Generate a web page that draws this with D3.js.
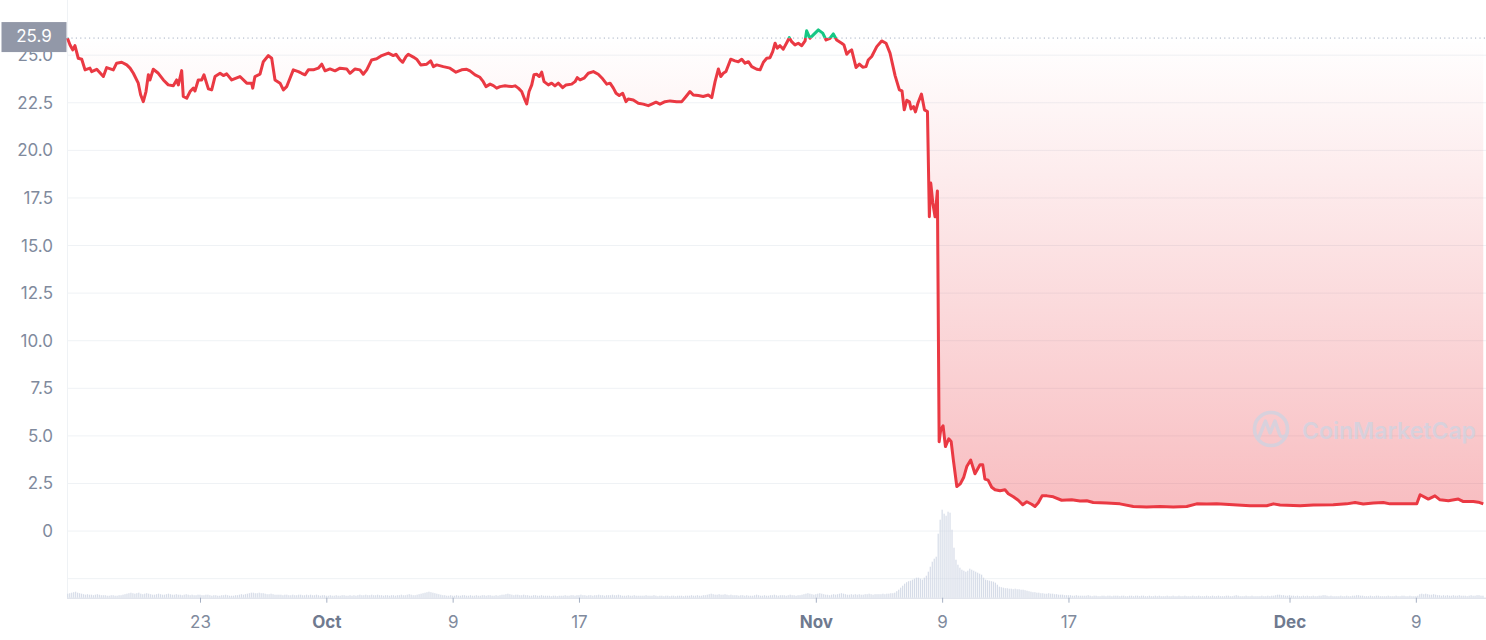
<!DOCTYPE html>
<html><head><meta charset="utf-8">
<script src="https://cdn.jsdelivr.net/npm/d3@7"></script>
<style>
html,body{margin:0;padding:0;background:#fff;}
svg{display:block;font-family:Inter,"Noto Sans",sans-serif;}
</style></head><body>
<svg id="chart" width="1486" height="640"></svg>
<script>
// Time values are days since 2022-09-01 00:00 UTC
const T0 = Date.UTC(2022, 8, 1);
const baselinePrice = 25.9;
const domainDays = [13.577, 103.38];

const priceSep = [[13.60,25.90],[13.77,25.54],[13.94,25.28],[14.08,25.50],[14.29,24.84],[14.51,24.79],[14.72,24.23],[15.03,24.32],[15.14,24.14],[15.46,24.26],[15.88,23.88],[16.09,24.35],[16.51,24.23],[16.72,24.58],[17.04,24.63],[17.36,24.49],[17.57,24.32],[17.78,24.05],[18.09,23.53],[18.24,22.92],[18.41,22.56],[18.58,23.09],[18.73,23.97],[18.83,23.70],[19.04,24.26],[19.36,24.05],[19.68,23.70],[19.99,23.44],[20.31,23.39],[20.52,23.70],[20.63,23.44],[20.84,24.19],[20.94,22.83],[21.16,22.74],[21.37,23.09],[21.58,23.27],[21.68,23.12],[21.89,23.70],[22.11,23.70],[22.25,23.97],[22.53,23.23],[22.74,23.18],[22.95,23.88],[23.27,24.05],[23.48,23.93],[23.69,24.02],[24.01,23.70],[24.53,23.88],[24.96,23.53],[25.27,23.53],[25.34,23.27],[25.48,23.88],[25.80,24.00],[26.01,24.66],[26.33,24.98],[26.54,24.84],[26.75,23.70],[27.07,23.53],[27.28,23.18],[27.49,23.35],[27.70,23.79],[27.91,24.23],[28.23,24.14],[28.44,24.05],[28.65,23.97],[28.86,24.23],[29.18,24.23],[29.49,24.32],[29.71,24.53],[29.92,24.18]];
const priceOct = [[30.23,24.28],[30.55,24.18],[30.87,24.32],[31.29,24.28],[31.50,24.05],[31.82,24.28],[32.13,24.23],[32.34,24.00],[32.56,24.23],[32.87,24.75],[33.19,24.81],[33.51,24.98],[33.93,25.11],[34.24,24.98],[34.41,25.05],[34.67,24.75],[34.84,24.63],[35.05,24.93],[35.19,25.05],[35.51,24.90],[35.72,24.79],[35.98,24.49],[36.36,24.53],[36.61,24.70],[36.78,24.40],[36.99,24.49],[37.41,24.40],[37.83,24.32],[38.21,24.11],[38.57,24.23],[38.89,24.26],[39.10,24.18],[39.42,23.97],[39.73,23.84],[39.94,23.61],[40.11,23.35],[40.37,23.48],[40.58,23.40],[40.79,23.27],[41.00,23.35],[41.32,23.39],[41.74,23.35],[41.95,23.39],[42.16,23.27],[42.37,23.09],[42.58,22.65],[42.69,22.44],[42.84,23.09],[43.01,23.44],[43.15,23.97],[43.32,24.00],[43.49,23.88],[43.64,24.11],[43.79,23.61],[44.06,23.44],[44.27,23.53],[44.48,23.39],[44.69,23.53],[44.97,23.30],[45.18,23.44],[45.54,23.48],[45.75,23.61],[45.89,23.82],[46.07,23.70],[46.32,23.79],[46.59,24.05],[46.91,24.14],[47.22,24.00],[47.50,23.76],[47.76,23.48],[47.97,23.53],[48.18,23.27],[48.35,23.00],[48.55,22.88],[48.77,23.00],[48.98,22.56],[49.12,22.70],[49.44,22.65],[49.76,22.48],[50.07,22.43],[50.39,22.35],[50.61,22.43],[50.88,22.53],[51.13,22.43],[51.45,22.56],[51.77,22.60],[52.19,22.56],[52.51,22.56],[52.78,22.83],[53.03,23.09],[53.24,22.91],[53.56,22.88],[53.87,22.83],[54.19,22.91],[54.41,22.77],[54.62,23.61],[54.83,24.28],[54.98,23.88],[55.14,24.05],[55.31,24.14],[55.61,24.79],[55.88,24.70],[56.09,24.66],[56.31,24.79],[56.52,24.58],[56.73,24.66],[56.94,24.40],[57.26,24.26],[57.47,24.23],[57.68,24.63],[57.89,24.84],[58.10,24.87],[58.27,25.19],[58.42,25.63],[58.56,25.37],[58.73,25.50],[58.94,25.32],[59.19,25.71],[59.32,25.92],[59.47,25.71],[59.68,25.54],[59.89,25.63],[60.11,25.50],[60.32,25.75],[60.42,26.28],[60.63,25.89],[60.84,26.07]];
const priceNov = [[61.16,26.33],[61.44,26.16],[61.65,25.80],[61.90,25.89],[62.11,26.12],[62.32,25.80],[62.64,25.63],[62.78,25.54],[62.96,25.05],[63.12,25.19],[63.27,25.28],[63.55,24.35],[63.76,24.53],[63.97,24.37],[64.18,24.40],[64.32,24.75],[64.54,24.93],[64.86,25.45],[65.17,25.75],[65.45,25.63],[65.70,25.11],[66.02,23.93],[66.29,23.18],[66.46,23.12],[66.60,22.13],[66.76,22.63],[66.93,22.55],[67.03,22.18],[67.19,22.30],[67.31,22.02],[67.47,22.49],[67.69,22.96],[67.88,22.13],[68.07,22.04],[68.19,16.51],[68.28,18.28],[68.41,17.24],[68.55,16.51],[68.70,17.87],[68.81,4.69],[68.91,5.32],[69.06,5.53],[69.21,4.44],[69.42,4.85],[69.57,4.71],[69.71,3.74],[69.93,2.34],[70.15,2.48],[70.37,2.83],[70.56,3.39],[70.81,3.73],[71.08,3.01],[71.40,3.48],[71.57,3.48],[71.71,2.73],[71.91,2.68],[72.14,2.30],[72.35,2.17],[72.67,2.12],[72.98,2.17],[73.19,1.96],[73.51,1.80],[73.82,1.62],[74.10,1.38],[74.36,1.54],[74.67,1.41],[74.88,1.29],[75.09,1.49],[75.33,1.85],[75.64,1.85],[76.04,1.80],[76.57,1.62],[77.21,1.64],[77.73,1.58],[78.16,1.59],[78.57,1.50],[79.42,1.47],[80.26,1.43],[81.11,1.29],[81.95,1.26],[82.80,1.29],[83.64,1.26],[84.49,1.29],[85.12,1.43],[85.76,1.42],[86.39,1.43],[87.44,1.38],[88.50,1.33],[89.56,1.33],[89.98,1.43],[90.40,1.37]];
const priceDec = [[91.67,1.33],[92.51,1.37],[93.77,1.38],[94.62,1.43],[95.15,1.50],[95.67,1.42],[96.31,1.47],[96.94,1.50],[97.36,1.43],[98.21,1.43],[99.06,1.43],[99.27,1.91],[99.79,1.68],[100.21,1.85],[100.53,1.64],[101.06,1.59],[101.69,1.68],[102.01,1.55],[102.64,1.55],[102.96,1.52],[103.27,1.43]];

// Volume, 3-hour bars (arbitrary units, M USD)
const volStep = 0.125;
const volSepStart = 13.625, volOctStart = 30, volNovStart = 61, volDecStart = 91;
const volSep = [40,45,50,
55,60,50,45,40,35,30,35, 30,30,25,30,35,30,25,25, 25,20,20,25,25,20,20,25, 25,30,35,40,45,50,45,40,
45,50,40,35,40,45,40,35, 30,30,35,40,35,30,30,35, 40,35,30,30,35,30,30,25, 30,35,30,25,30,25,25,30,
30,25,25,30,30,25,20,25, 25,20,20,25,25,30,25,20, 20,20,25,25,30,35,30,35, 40,45,50,50,45,45,50,45,
45,40,35,35,40,35,30,30, 30,30,25,30,30,25,25,30, 25,25,30,30,25,25,30,25, 30,25,25,30,25,20,25,25];
const volOct = [20,20,25,20,20,25,20,20, 25,25,20,20,25,20,25,20, 25,30,25,25,30,25,25,30, 25,25,30,25,25,20,25,25,
20,25,25,20,25,25,30,25, 25,30,35,30,25,25,30,35, 40,45,50,55,60,55,50,45, 40,35,30,25,25,20,20,25,
20,20,25,20,20,25,25,20, 20,25,20,20,25,20,20,25, 25,20,25,25,20,20,25,20, 25,30,30,35,40,35,30,25,
30,30,25,25,30,25,25,20, 20,25,25,20,20,25,20,20, 20,20,15,20,20,15,20,20, 20,25,20,20,25,25,20,25,
25,30,25,25,20,25,25,20, 25,25,30,25,25,20,25,25, 25,30,25,25,30,25,20,20, 20,25,20,20,25,20,20,20,
20,20,25,20,20,20,25,20, 15,20,20,15,20,20,15,20, 20,15,20,20,20,15,20,20, 20,25,20,20,25,20,20,25,
25,30,35,40,35,30,30,35, 30,30,35,30,25,30,25,25, 25,20,25,25,20,25,20,20, 20,25,30,25,20,20,25,20,
20,25,25,30,25,20,25,25, 25,20,25,30,25,25,20,25, 25,30,35,40,45,40,35,30];
const volNov = [35,40,45,40,35,30,30,25, 30,35,30,35,40,45,40,35, 30,30,35,30,35,30,35,30, 30,35,35,40,35,30,35,35,
35,35,40,35,40,40,45,45, 50,65,80,100,120,140,155,165, 170,180,190,200,200,190,180,200, 220,260,310,360,390,410,640,780,
880,840,820,860,850,680,500,380, 330,300,280,270,260,270,290,280, 270,260,250,240,230,200,180,175, 170,165,160,150,130,110,105,100,
95,95,90,90,85,90,85,85, 80,80,75,70,65,60,55,55, 50,50,45,45,40,40,45,40, 40,35,35,30,30,30,25,25,
25,25,20,20,25,20,20,20, 20,20,25,20,15,20,20,15, 15,20,20,15,20,20,15,20, 20,20,15,20,20,15,15,20,
20,15,20,20,15,20,20,15, 15,20,15,15,20,15,20,15, 15,15,20,15,15,20,15,15, 20,15,15,20,15,15,15,20,
15,15,20,15,15,15,20,15, 15,20,15,15,20,15,15,15, 20,20,15,15,20,25,20,15, 15,15,20,15,15,20,15,15,
15,15,20,15,15,20,15,20, 20,25,30,30,25,25,20,20];
const volDec = [25,20,20,15,20,15,15,20, 15,20,15,15,20,15,15,20, 20,25,25,20,15,20,15,15, 15,15,20,15,15,20,15,15,
20,20,25,25,20,20,15,15, 15,20,15,15,20,20,15,15, 15,15,20,15,15,15,20,15, 15,20,20,15,15,20,15,15,
15,20,35,40,35,40,35,30, 30,35,30,25,25,20,25,20, 25,20,20,25,20,20,25,20, 20,20,15,20,25,20,20,25,
25,20,20];

const yGridValues = [-2.5,0,2.5,5,7.5,10,12.5,15,17.5,20,22.5,25];
const yTickValues = [0,2.5,5,7.5,10,12.5,15,17.5,20,22.5,25];
const xTickDays = [22,30,38,46,61,69,77,91,99];
const xTickLabels = ["23","Oct","9","17","Nov","9","17","Dec","9"];
const monthLabels = ["Oct","Nov","Dec"];

// ---------------------------------------------------------------
const dayToDate = d => new Date(T0 + d * 86400000);
const W = 1486, H = 640;
const left = 67, right = 1485, bottom = 597.7;
const svg = d3.select("#chart");

const x = d3.scaleUtc().domain(domainDays.map(dayToDate)).range([left, right]);
const y = d3.scaleLinear().domain([-3.5, 27.9]).range([bottom, 0]);
const v = d3.scaleLinear().domain([0, 1000]).range([0, 100]);

const prices = [...priceSep, ...priceOct, ...priceNov, ...priceDec].map(d => ({date: dayToDate(d[0]), value: d[1]}));
const vols = [];
[[volSep, volSepStart],[volOct, volOctStart],[volNov, volNovStart],[volDec, volDecStart]].forEach(([arr, st]) => {
  arr.forEach((val, i) => vols.push({date: dayToDate(st + i * volStep), value: val}));
});

const yBase = y(baselinePrice);
const defs = svg.append("defs");
const gRed = defs.append("linearGradient").attr("id","gRed").attr("gradientUnits","userSpaceOnUse")
  .attr("x1",0).attr("x2",0).attr("y1",yBase).attr("y2",y(1.2));
gRed.append("stop").attr("offset","0").attr("stop-color","#ea3943").attr("stop-opacity",0.0);
gRed.append("stop").attr("offset","1").attr("stop-color","#ea3943").attr("stop-opacity",0.33);
const gGreen = defs.append("linearGradient").attr("id","gGreen").attr("gradientUnits","userSpaceOnUse")
  .attr("x1",0).attr("x2",0).attr("y1",y(26.5)).attr("y2",yBase);
gGreen.append("stop").attr("offset","0").attr("stop-color","#16c784").attr("stop-opacity",0.25);
gGreen.append("stop").attr("offset","1").attr("stop-color","#16c784").attr("stop-opacity",0.02);
defs.append("clipPath").attr("id","clipBelow").append("rect").attr("x",0).attr("y",yBase).attr("width",W).attr("height",H);
defs.append("clipPath").attr("id","clipAbove").append("rect").attr("x",0).attr("y",0).attr("width",W).attr("height",yBase);

// gridlines
svg.append("g").selectAll("line").data(yGridValues).join("line")
  .attr("x1", left).attr("x2", W).attr("y1", d => y(d)).attr("y2", d => y(d))
  .attr("stroke", "#eff2f5").attr("stroke-width", 1);
svg.append("line").attr("x1", left + 0.5).attr("x2", left + 0.5).attr("y1", 0).attr("y2", bottom)
  .attr("stroke", "#eff2f5");

// volume bars
svg.append("g").selectAll("rect").data(vols).join("rect")
  .attr("x", d => x(d.date) - 0.6).attr("width", 1.2)
  .attr("y", d => bottom - v(d.value)).attr("height", d => v(d.value))
  .attr("fill", "#cfd6e4").attr("opacity", 0.85);

// area
const area = d3.area().x(d => x(d.date)).y0(yBase).y1(d => y(d.value));
svg.append("path").datum(prices).attr("d", area).attr("fill", "url(#gRed)").attr("clip-path","url(#clipBelow)");
svg.append("path").datum(prices).attr("d", area).attr("fill", "url(#gGreen)").attr("clip-path","url(#clipAbove)");

// watermark
const wm = svg.append("g").attr("opacity", 0.75);
wm.append("circle").attr("cx", 1271).attr("cy", 429).attr("r", 16.5)
  .attr("fill", "none").attr("stroke", "#cdd4e2").attr("stroke-width", 3.6);
wm.append("path").attr("d", "M1259,437 L1265.5,421 L1270,433 L1275,421 L1279.5,434 Q1281,438 1285,436")
  .attr("fill", "none").attr("stroke", "#cdd4e2").attr("stroke-width", 3.4).attr("stroke-linejoin","round").attr("stroke-linecap","round");
wm.append("text").attr("x", 1302).attr("y", 439).attr("font-size", 23).attr("font-weight", 600)
  .attr("fill", "#cdd4e2").attr("textLength", 174).attr("lengthAdjust","spacingAndGlyphs").text("CoinMarketCap");

// price line
const line = d3.line().x(d => x(d.date)).y(d => y(d.value));
svg.append("path").datum(prices).attr("d", line).attr("fill","none").attr("stroke","#ea3943")
  .attr("stroke-width", 3).attr("stroke-linejoin","round").attr("clip-path","url(#clipBelow)");
svg.append("path").datum(prices).attr("d", line).attr("fill","none").attr("stroke","#16c784")
  .attr("stroke-width", 3).attr("stroke-linejoin","round").attr("clip-path","url(#clipAbove)");

// dotted baseline
svg.append("line").attr("x1", left).attr("x2", W).attr("y1", yBase).attr("y2", yBase)
  .attr("stroke", "#a6b0c3").attr("stroke-width", 1).attr("stroke-dasharray", "1.2,3.2");

// x axis
const xAxis = d3.axisBottom(x).tickValues(xTickDays.map(dayToDate))
  .tickFormat((d, i) => xTickLabels[i]).tickSize(5).tickPadding(13);
const gx = svg.append("g").attr("transform", `translate(0,${bottom})`).call(xAxis);
gx.select(".domain").attr("stroke", "#d5dae5").attr("d", `M${left},0.5H${W}`);
gx.selectAll(".tick line").attr("stroke", "#a6b0c3");
gx.selectAll(".tick text").attr("fill", "#808a9d").attr("font-size", 17)
  .attr("font-family", "Inter, 'Noto Sans', sans-serif")
  .attr("font-weight", (d, i) => monthLabels.includes(xTickLabels[i]) ? 700 : 400)
  .attr("fill", (d, i) => monthLabels.includes(xTickLabels[i]) ? "#6f7a8f" : "#808a9d");

// y axis
const yAxis = d3.axisLeft(y).tickValues(yTickValues)
  .tickFormat(d => d === 0 ? "0" : d3.format(".1f")(d)).tickSize(0).tickPadding(14);
const gy = svg.append("g").attr("transform", `translate(${left},0)`).call(yAxis);
gy.select(".domain").remove();
gy.selectAll(".tick text").attr("fill", "#808a9d").attr("font-size", 17)
  .attr("font-family", "Inter, 'Noto Sans', sans-serif");

// current price label
svg.append("rect").attr("x", 1.5).attr("y", yBase - 16).attr("width", 65).attr("height", 30)
  .attr("fill", "#9298a8");
svg.append("text").attr("x", 34).attr("y", yBase - 1).attr("text-anchor","middle")
  .attr("dominant-baseline","middle").attr("font-size", 17).attr("fill","#ffffff")
  .text(d3.format(".1f")(baselinePrice));
</script>
</body></html>
